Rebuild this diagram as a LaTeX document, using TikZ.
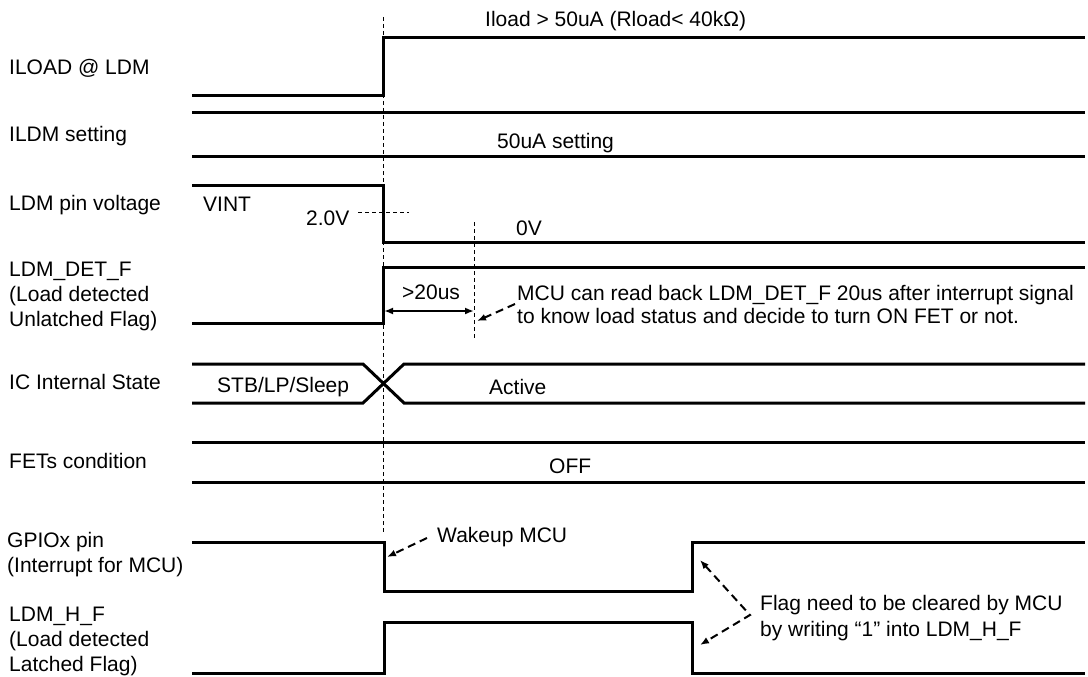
\documentclass[tikz,border=0pt]{standalone}
\usepackage{fontspec}
\setmainfont{Liberation Sans}
\usetikzlibrary{arrows.meta,positioning}

\begin{document}
\begin{tikzpicture}[x=1pt,y=-1pt,>={Latex[length=9pt,width=7pt]},
	every node/.style={font=\fontsize{21}{25}\selectfont,inner sep=0pt},
	lbl/.style={anchor=base west,align=left},
	sig/.style={line width=3pt,line join=miter},
	guide/.style={dash pattern=on 4pt off 3pt,line width=0.8pt},
	note/.style={->,dash pattern=on 8pt off 5pt,line width=2pt}]
	\useasboundingbox (0,0) rectangle (1088,677);

	% signal names (multi-line ones sit on their last line)
	\node[lbl] (iload) at (9,75) {ILOAD @ LDM};
	\node[lbl] (ildm) at (9,142) {ILDM setting};
	\node[lbl] (ldmv) at (9,210) {LDM pin voltage};
	\node[lbl] (det) at (9,326) {LDM\_DET\_F\\(Load detected\\Unlatched Flag)};
	\node[lbl] (state) at (9,389) {IC Internal State};
	\node[lbl] (fets) at (9,468) {FETs condition};
	\node[lbl] (gpio) at (7,572) {GPIOx pin\\(Interrupt for MCU)};
	\node[lbl] (latch) at (9,671) {LDM\_H\_F\\(Load detected\\Latched Flag)};

	% event line
	\coordinate (evtop) at (383,17);
	\coordinate (evbot) at (383,532);
	\draw[guide] (evtop) -- (evbot);

	% waveforms
	\draw[sig] (192,96) -- (383,96) -- (383,38) -- (1085,38);
	\draw[sig] (192,113) -- (1085,113);
	\draw[sig] (192,156) -- (1085,156);
	\draw[sig] (192,185) -- (383,185) -- (383,242) -- (1085,242);
	\draw[sig] (192,323) -- (383,323) -- (383,267) -- (1085,267);
	\draw[sig] (192,364) -- (363,364) -- (404,403) -- (1085,403);
	\draw[sig] (192,403) -- (363,403) -- (404,364) -- (1085,364);
	\draw[sig] (192,442) -- (1085,442);
	\draw[sig] (192,482) -- (1085,482);
	\draw[sig] (192,542) -- (384,542) -- (384,591) -- (692,591) -- (692,542) -- (1085,542);
	\draw[sig] (192,673) -- (384,673) -- (384,622) -- (692,622) -- (692,673) -- (1085,673);

	% values
	\node[lbl] (iloadv) at (485,27) {Iload > 50uA (Rload< 40kΩ)};
	\node[lbl] (ildmv) at (497,148) {50uA setting};
	\node[lbl] (vint) at (203,211) {VINT};
	\node[lbl] (thr) at (306,225) {2.0V};
	\node[lbl] (zero) at (516,235) {0V};
	\node[lbl] (sleep) at (217,392) {STB/LP/Sleep};
	\node[lbl] (active) at (489,394) {Active};
	\node[lbl] (off) at (549,473) {OFF};

	% 2.0V threshold and 20us mark
	\coordinate (thrA) at (358,212);
	\coordinate (thrB) at (409,212);
	\draw[guide] (thrA) -- (thrB);
	\coordinate (t1top) at (474,222);
	\coordinate (t1bot) at (474,340);
	\draw[guide] (t1top) -- (t1bot);

	\coordinate (waitA) at (384,311);
	\coordinate (waitB) at (474,311);
	\draw[<->,line width=2pt] (waitA) -- (waitB);
	\node[lbl] (wait) at (402,299) {>20us};

	% notes
	\node[lbl,font=\fontsize{21}{23}\selectfont] (readnote) at (517,323)
		{MCU can read back LDM\_DET\_F 20us after interrupt signal\\to know load status and decide to turn ON FET or not.};
	\coordinate (readfrom) at (515,304);
	\coordinate (readto) at (477,321);
	\draw[note] (readfrom) -- (readto);

	\node[lbl] (wake) at (437,542) {Wakeup MCU};
	\coordinate (wakefrom) at (427,538);
	\coordinate (waketo) at (387,557);
	\draw[note] (wakefrom) -- (waketo);

	\node[lbl,font=\fontsize{21}{26}\selectfont] (clear) at (760,636)
		{Flag need to be cleared by MCU\\by writing “1” into LDM\_H\_F};
	\coordinate (clrmid) at (750,615);
	\coordinate (clrup) at (700,560);
	\coordinate (clrdn) at (700,645);
	\draw[note,<->] (clrup) -- (clrmid) -- (clrdn);
\end{tikzpicture}
\end{document}
